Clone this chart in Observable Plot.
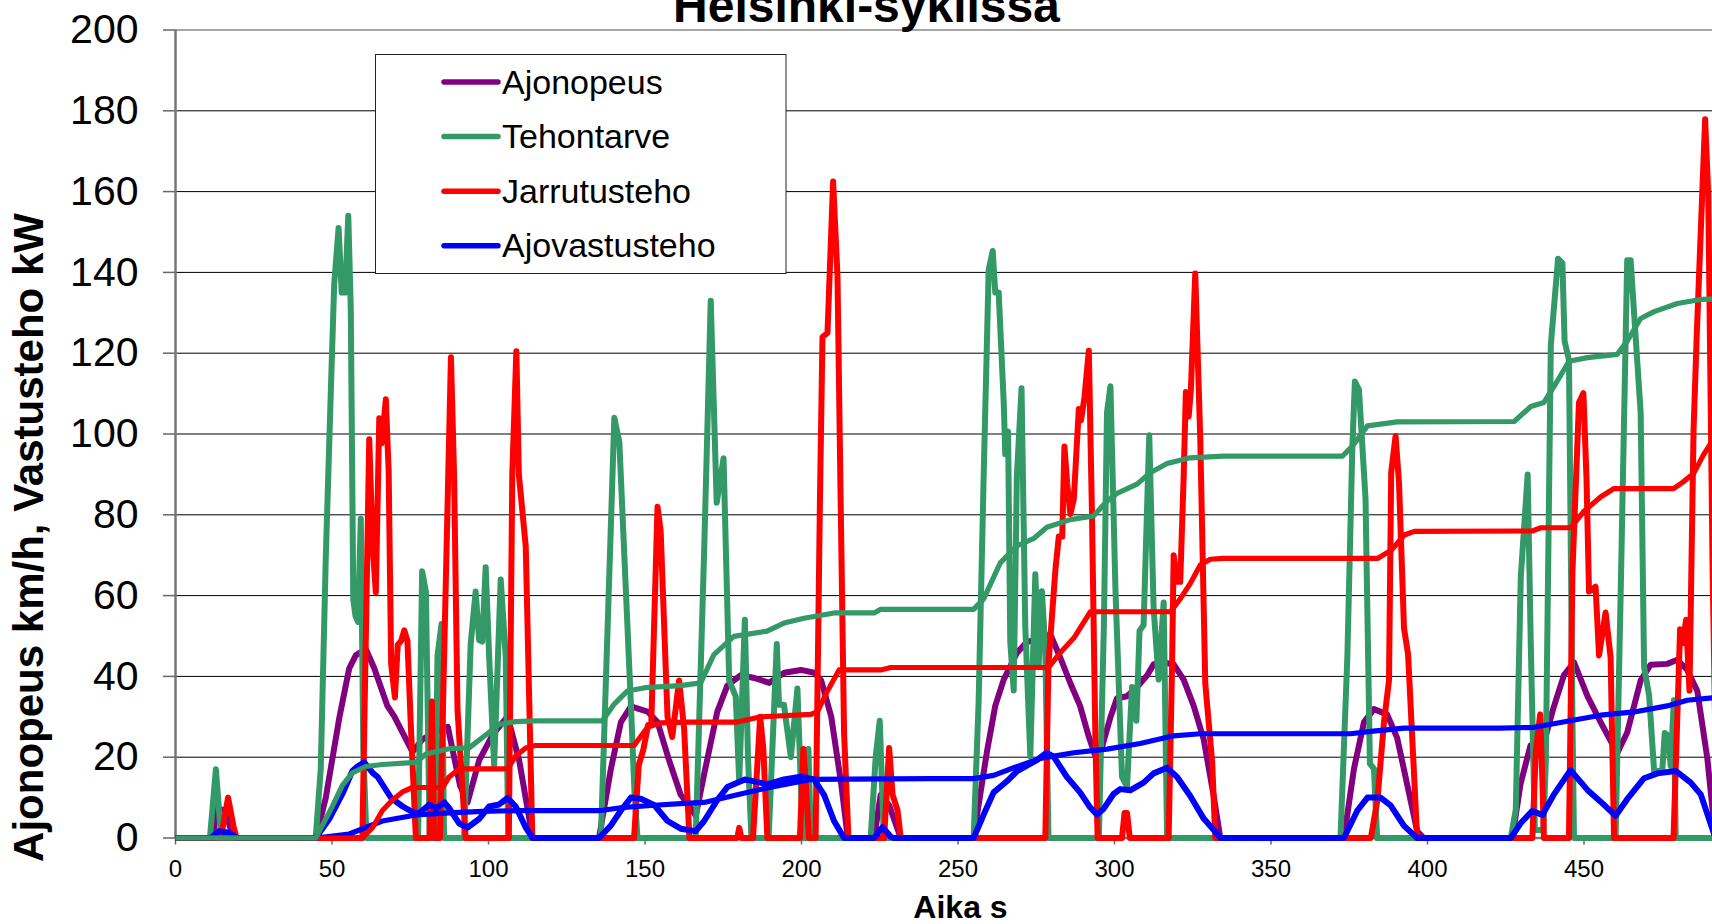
<!DOCTYPE html>
<html><head><meta charset="utf-8">
<script src="https://cdn.jsdelivr.net/npm/d3@7"></script>
<script src="https://cdn.jsdelivr.net/npm/@observablehq/plot@0.6"></script>
<style>
html,body{margin:0;padding:0;background:#fff;overflow:hidden;}
#wrap{position:relative;width:1760px;height:924px;}
#wrap svg{max-width:none !important;}
#legend{position:absolute;left:375px;top:54px;}
</style></head><body><div id="wrap"></div>
<script>
// ---------- data (time s, value) ----------
const xTicks = [0,50,100,150,200,250,300,350,400,450,500];
const yTicks = [0,20,40,60,80,100,120,140,160,180,200];
const legendLabels = ["Ajonopeus","Tehontarve","Jarrutusteho","Ajovastusteho"];
const legendColors = ["#800080","#339966","#ff0000","#0000ff"];

// Ajonopeus km/h
const speed = [[0,0],[12,0],[13,7],[16,7],[18,1],[19,0],[44.8,0],[48,9.9],[52.3,29.6],[55.5,42],[57.6,45.2],[60.8,46.8],[63.5,42],[67.7,32.7],[69.9,30.1],[75.7,21.3],[78.9,24.4],[84.8,27],[87,27.5],[90.9,13],[93.3,8.8],[97,19.2],[101.3,25.5],[106.1,30.1],[109.8,19.2],[114.1,0],[135.3,0],[139.1,17.1],[142.3,28.7],[145.5,32.6],[150.8,31.3],[154,28.7],[157.5,19.7],[161.4,10.7],[164.6,7.5],[166.2,5.5],[168.9,15.8],[173.1,31.3],[176.3,37.7],[180.6,40.3],[184.9,39.6],[189.7,38.4],[194.5,40.9],[199.8,41.6],[204.1,40.9],[206.3,39],[209.5,30],[212.7,13.3],[214.8,0],[223.2,0],[225.3,10.7],[228,8.1],[231.7,0],[255.2,0],[256.1,5.8],[259.3,21.6],[261.9,32.7],[264.6,39.2],[268.8,45.8],[272,48.5],[276.3,49.5],[279.5,50.4],[282.6,44.8],[285.9,38.3],[289,32.7],[291.7,25.3],[293.9,20.2],[296,22.5],[298.7,29.9],[300.8,34.6],[304,35.1],[307.2,37.4],[310.4,40.2],[312.5,43],[315.7,43.4],[318.9,43],[322.1,39.2],[325.3,32.7],[328.5,24.4],[331.7,10.4],[333.8,0],[373.3,0],[376.5,17.1],[379.7,28.7],[382.9,31.9],[387.1,30.6],[390.3,24.8],[393.5,13.3],[396.7,1.7],[398.8,0],[427.1,0],[429.7,13.3],[432.9,22.9],[437.2,23.6],[440.4,32.6],[443.6,40.3],[446.8,43.5],[451.1,35.1],[455.3,28.7],[460.6,21],[463.8,26.1],[468.1,39],[471.3,42.9],[476.6,43.1],[479.8,44.1],[483,41.6],[486.2,36.4],[489.4,19.7],[491.1,6.8],[492,0]];

// Tehontarve kW
const demand = [[0,0],[11,0],[12.9,17],[14.5,1],[15.5,0],[44.8,0],[46.4,17],[48,69],[49.6,110],[50.7,137],[52.1,151],[53.1,135],[54.2,135],[55.2,154],[56,131],[56.8,59],[57.5,55],[58.3,53.5],[59.2,79],[60,22],[61,0],[77.5,0],[78.8,66],[80,61],[81.2,0],[83,0],[83.7,45],[85,53],[85.8,0],[92.2,0],[94.3,48],[95.9,61],[97,49],[98,48.6],[99.1,67],[100.2,45],[101.8,18],[103.9,64],[105.5,45],[106.3,0],[135.9,0],[140.2,104],[141.8,98],[145.5,33],[146.6,12],[147.6,0],[166.2,0],[168.9,71],[171,133],[172.9,83],[175.1,94],[176.9,39],[179,35],[180.1,14],[181.9,54],[182.9,20],[184,0],[189.5,0],[192.1,48],[192.8,33],[194.4,33],[196.6,20],[198.7,37],[199.8,13],[200.5,0],[201.5,0],[202.2,22],[203,0],[222.1,0],[223.7,20],[225,29],[226.3,0],[255,0],[256.6,34],[258.2,89.5],[259.8,140.6],[261.1,145.3],[261.9,135],[263,135],[264.6,108],[265.1,95],[266,100.6],[266.7,48.5],[267.8,36.5],[268.8,89.5],[270.3,111.3],[271.5,52.3],[273.1,20.2],[274.7,65.3],[275.8,43],[276.8,61.1],[277.9,46.7],[278.9,0],[295,0],[296.6,52.3],[297.6,105.3],[298.7,111.8],[300.3,61.6],[302.4,15.1],[304,12.7],[305.6,37.4],[307,29],[308,51.3],[309.3,52.7],[311.1,99.7],[312.5,56.9],[314.1,39.2],[315.7,58.3],[316.8,0],[372.2,0],[374.4,45],[376,97],[376.8,113],[378.1,111],[380.2,84],[381.6,18.4],[382.9,17.1],[383.9,0],[426.6,0],[428.2,7],[429.8,64.5],[432,90],[433,48],[434.3,2],[437,2],[437.8,19],[439.4,122],[441.7,143.4],[443.1,142.3],[443.8,123],[445.2,118.3],[446.3,30],[446.8,0],[460.1,0],[461.7,60],[463.8,143],[464.9,143],[466.5,124],[468.1,105.4],[469.2,42.3],[470.8,35.3],[472.4,16.6],[475,16.6],[475.8,26],[476.8,25.4],[477.7,17.8],[478.7,34.1],[479.3,0],[495,0]];

// Tehontarve, cumulative
const demandCum = [[0,0],[44.8,0],[50.1,7.8],[53.3,13],[56.5,16.1],[60.8,17.7],[66.1,18.2],[76.8,18.7],[80,20.8],[87.4,22.1],[93.8,22.3],[99.1,25.5],[103.4,28.1],[108.7,28.8],[115,29],[136.4,29],[140,33],[144.4,36.4],[150,37.2],[161.4,37.7],[167.8,38.4],[172,45.4],[178.4,49.9],[189,51.2],[194.4,53.2],[200.8,54.4],[210.4,55.7],[223.2,55.7],[225.3,56.6],[255,56.6],[258.2,59.2],[263.5,68.1],[268.8,72.3],[274.1,74.1],[278.4,76.9],[285.9,78.8],[293.3,79.7],[297.6,83.4],[300.8,85.3],[307.2,87.6],[311.4,90.4],[316.8,92.7],[324.2,94.1],[334.9,94.5],[372.8,94.5],[376,97],[380.8,102],[390.3,103],[427.7,103.1],[433,106.8],[437.2,107.8],[441,112.5],[445.2,118],[451.1,118.9],[460.6,119.7],[463.8,123],[468.1,128.6],[472.4,130.3],[479.8,132.3],[487.3,133.3],[495,133.5]];

// Jarrutusteho kW
const braking = [[0,0],[14.5,0],[16.8,10],[18.5,3],[19.5,0],[59.7,0],[61.9,98.7],[63,72.2],[64,60.8],[65.1,103.9],[65.9,97.7],[67.2,108.6],[68.1,90.9],[68.9,43.1],[70.1,34.8],[71,47.8],[72.1,48.8],[73.1,51.4],[74.1,48.8],[75.2,27.5],[76.8,0],[81.2,0],[81.9,33.8],[82.6,0],[84.5,0],[88,119],[89,90],[90.1,31.7],[91.7,12],[92.7,0],[106.5,0],[107.6,90],[108.9,120.5],[109.7,90],[111.9,72.2],[112.9,37.9],[114,0],[146.5,0],[148,18],[149.5,22],[151,28],[152,28],[154,82],[155,76],[157.2,30],[158.7,25],[160.9,39],[162.5,27],[164.2,0],[179.5,0],[180.1,2.5],[180.8,0],[184.5,0],[186.8,30],[187.8,22],[189.1,0],[199.5,0],[200.6,22],[201.4,13],[202.4,0],[204.5,0],[205.9,84],[206.7,124],[208.3,125],[210.1,162.5],[211.5,139],[212.5,84],[213.6,26],[215,0],[226.4,0],[228,22.3],[229.1,10.7],[230.7,6.8],[231.7,0],[277.9,0],[278.9,43],[281.1,66.2],[282.2,74.6],[283.3,74.6],[284,96.9],[284.9,87.6],[285.9,80.2],[287,83.9],[288.6,106.2],[289.3,103.4],[290.4,109],[291.8,120.6],[292.8,80.2],[293.9,24.4],[294.6,0],[302.4,0],[303.2,6.2],[304,6.2],[304.9,0],[317.3,0],[318.4,43],[318.9,70],[320,63.4],[321,63.4],[322.1,89.5],[322.8,110.4],[323.7,104.3],[324.4,110.9],[325.8,139.7],[327.4,98.8],[329,38.3],[331.2,18.8],[332.2,0],[381.9,0],[384,9.4],[386.1,28.7],[387.7,39],[388.4,90.5],[389.8,99.5],[390.9,87.9],[392.5,51.9],[393.8,45.4],[395.2,23.6],[396.7,0],[433.5,0],[434.6,21.3],[436,30.6],[436.7,14.3],[437.2,0],[445.2,0],[446.3,65.7],[448.4,107.8],[449.8,110.1],[450.8,89.1],[451.6,61],[453.7,62.2],[454.8,45.2],[456.9,55.8],[458.5,44.7],[459.6,0],[478.6,0],[480.7,51.7],[481.6,48.2],[482.6,54],[483.7,36.5],[485,100.8],[486,124.1],[488.7,177.9],[489.7,159.2],[491.1,65.7],[492.5,0]];

// Jarrutusteho, cumulative
const brakingCum = [[0,0],[59.7,0],[63,2.6],[66.1,6.8],[69.3,9.4],[72.5,11.4],[75.7,12.5],[85.3,12.5],[87.4,15.1],[90.6,17.1],[106.1,17.1],[108.7,20.3],[111.9,22.3],[115,22.9],[146.5,22.9],[150.8,27.4],[155,28.5],[163.5,28.7],[179.5,28.7],[187,30],[203,30.6],[205.1,31.3],[208.3,36.4],[212,41.6],[225.3,41.6],[228.5,42.2],[278.9,42.2],[282.6,45.8],[287,49.5],[292.3,56],[317.9,56],[321,59.2],[324.2,63],[327.4,67.6],[330.6,69],[334.9,69.2],[384,69.2],[388.4,71.2],[392.6,75],[395.8,75.9],[433.5,76],[436.2,76.8],[445.8,76.8],[450,80.9],[455.3,84.4],[459.6,86.5],[478.6,86.5],[481.3,87.9],[485,90.2],[488.2,94.9],[491.1,98.4],[494,100]];

// Ajovastusteho kW
const resistance = [[0,0],[11.3,0],[13.9,1.7],[17.1,1.3],[19.8,0],[44.8,0],[49.1,4.7],[53.3,10.9],[56.5,16.6],[58.1,17.7],[60.3,18.7],[63,16.1],[64.6,15.1],[68.9,9.9],[72.6,7.8],[76.2,6.2],[77.9,6.2],[81.1,8.3],[83.2,7.3],[85.9,8.8],[87.5,7.3],[90.6,3.6],[93.3,2.6],[97,4.7],[100.2,7.8],[103.4,8.3],[106.1,9.9],[108.7,7.8],[111.9,2.6],[114.1,0],[135.3,0],[139,3],[142.3,6.8],[145.5,10],[148.7,9.7],[153,8.1],[157.2,4.2],[161.4,2.3],[166.2,1.7],[168.9,4.2],[173.1,9.4],[176.3,12.6],[181.9,14.5],[189.1,13.3],[194.4,14.5],[199.8,15.2],[204,14.5],[207.2,10.7],[210.4,4.2],[213.6,0],[223.2,0],[225.9,2.7],[228.5,0.3],[229.5,0],[255,0],[258.2,5.8],[261.4,11.3],[265.7,14.1],[268.8,16.5],[272,17.9],[275.2,19.3],[278.2,21.1],[280.5,20.2],[284.8,15.1],[289,11.3],[292.2,7.6],[294.4,5.8],[296.5,7.2],[299.7,10.9],[301.8,12.1],[305,11.8],[309.3,13.7],[312.5,16],[316.8,17.4],[320,15.1],[324.2,10.4],[328.5,4.8],[331.7,2],[333.8,0],[373.3,0],[377.6,6.8],[380.8,10],[385,10],[388.2,8.1],[392.5,3],[396.7,0],[426.6,0],[429.8,3.7],[433.5,6.7],[436.7,5.7],[440.4,10.8],[445.7,16.8],[451.1,11.9],[455.3,9],[460.1,5.5],[463.8,9.6],[469.2,14.8],[473.5,16],[479.3,16.6],[484.1,13.7],[487.3,10.8],[491.1,2],[492,0]];

// Ajovastusteho, cumulative
const resistanceCum = [[0,0],[44.8,0],[55.5,1],[60.8,2.6],[66.1,4.2],[76.8,5.7],[87.4,6.2],[98.1,6.6],[110.3,6.8],[135.9,6.8],[142.3,7.5],[153,8.1],[161.4,8.5],[168.9,8.8],[179.5,10.7],[190.2,12.6],[203,14.5],[241.3,14.7],[255,14.7],[261.4,15.5],[267.8,17.4],[276.3,19.7],[287,21.1],[297.6,22],[308.2,23.4],[318.9,25.3],[327.4,25.8],[375.4,25.8],[381.9,26.4],[392.5,27.2],[423.4,27.2],[434.1,27.4],[444.7,28.9],[455.3,30.4],[466,31.2],[476.6,32.7],[483,34.1],[491.1,34.7],[495,35]];

// ---------- chart ----------
const FONT = "'Liberation Sans', Arial, Helvetica, sans-serif";
const toRows = arr => arr.map(([t, v]) => ({t, v}));
const lineOpts = (color, w) => ({x: "t", y: "v", stroke: color, strokeWidth: w, strokeLinejoin: "round", strokeLinecap: "butt"});

const chart = Plot.plot({
  width: 1760,
  height: 924,
  marginLeft: 175,
  marginRight: 20,
  marginTop: 29.5,
  marginBottom: 86.5,
  style: {fontFamily: FONT, background: "#fff", overflow: "visible", maxWidth: "none"},
  x: {domain: [0, 500]},
  y: {domain: [0, 200]},
  marks: [
    Plot.ruleY(yTicks.filter(d => d > 0 && d < 200), {stroke: "#000", strokeWidth: 1}),
    Plot.ruleY([200], {stroke: "#888", strokeWidth: 1.5}),
    Plot.axisY({ticks: yTicks, tickSize: 12, tickPadding: 25, fontSize: 41, stroke: "#666", strokeWidth: 1.5, fill: "#000", label: null}),
    Plot.axisX({ticks: xTicks, tickSize: 7, tickPadding: 15, fontSize: 24, stroke: "#666", strokeWidth: 1.5, fill: "#000", label: null}),
    Plot.ruleY([0], {stroke: "#777", strokeWidth: 2.5}),
    Plot.ruleX([0], {stroke: "#777", strokeWidth: 2.5}),
    Plot.line(toRows(speed), lineOpts(legendColors[0], 6)),
    Plot.line(toRows(demand), lineOpts(legendColors[1], 6)),
    Plot.line(toRows(braking), lineOpts(legendColors[2], 6)),
    Plot.line(toRows(resistance), lineOpts(legendColors[3], 6)),
    Plot.line(toRows(resistanceCum), lineOpts(legendColors[3], 5.2)),
    Plot.line(toRows(brakingCum), lineOpts(legendColors[2], 5.2)),
    Plot.line(toRows(demandCum), lineOpts(legendColors[1], 5.2)),
    Plot.text(["Helsinki-syklissä"], {frameAnchor: "top", textAnchor: "middle", lineAnchor: "middle", dx: -91.5, dy: -23, fontSize: 48, fontWeight: "bold", fill: "#000"}),
    Plot.text(["Aika s"], {frameAnchor: "bottom", textAnchor: "middle", lineAnchor: "middle", dx: 2.5, dy: 70, fontSize: 32, fontWeight: "bold", fill: "#000"}),
    Plot.text(["Ajonopeus km/h, Vastusteho kW"], {frameAnchor: "left", textAnchor: "middle", lineAnchor: "middle", rotate: -90, dx: -145.5, dy: 103.5, fontSize: 42, fontWeight: "bold", fill: "#000"})
  ]
});
const wrap = document.getElementById("wrap");
wrap.appendChild(chart);

// ---------- legend box ----------
const ns = "http://www.w3.org/2000/svg";
const leg = document.createElementNS(ns, "svg");
leg.setAttribute("id", "legend");
leg.setAttribute("width", 412);
leg.setAttribute("height", 221);
leg.style.fontFamily = FONT;
const box = document.createElementNS(ns, "rect");
Object.entries({x: 0.5, y: 0.5, width: 410.5, height: 219, fill: "#fff", stroke: "#222", "stroke-width": 1}).forEach(([k, v]) => box.setAttribute(k, v));
leg.appendChild(box);
legendLabels.forEach((lab, i) => {
  const cy = 28 + i * 54.6;
  const ln = document.createElementNS(ns, "line");
  Object.entries({x1: 69, x2: 123, y1: cy, y2: cy, stroke: legendColors[i], "stroke-width": 5.5, "stroke-linecap": "round"}).forEach(([k, v]) => ln.setAttribute(k, v));
  leg.appendChild(ln);
  const tx = document.createElementNS(ns, "text");
  tx.setAttribute("x", 127);
  tx.setAttribute("y", cy + 11.6);
  tx.setAttribute("font-size", 34);
  tx.setAttribute("fill", "#000");
  tx.textContent = lab;
  leg.appendChild(tx);
});
wrap.appendChild(leg);
</script></body></html>
